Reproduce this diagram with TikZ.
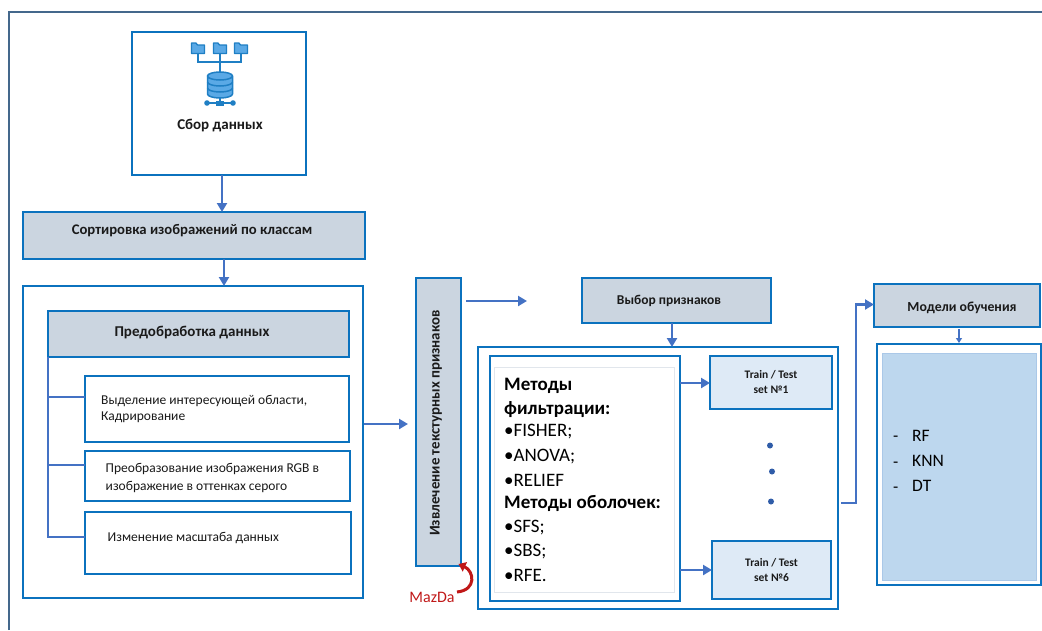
\documentclass[tikz,border=0pt]{standalone}
\usepackage{fontspec}
\setmainfont{Carlito}
\usetikzlibrary{arrows.meta,calc}
\definecolor{bx}{HTML}{0B72BE}
\definecolor{conn}{HTML}{4472C4}
\definecolor{hdr}{HTML}{CBD5E0}
\definecolor{lightb}{HTML}{DEEAF6}
\definecolor{midb}{HTML}{BDD7EE}
\definecolor{frame}{HTML}{44688C}
\definecolor{ico}{HTML}{1F7FC4}
\definecolor{icf}{HTML}{5AA9E6}
\definecolor{txt}{HTML}{1A1A1A}
\definecolor{mazred}{HTML}{C01818}
\definecolor{dotb}{HTML}{2F5CA8}
\newcommand{\fs}[1]{\fontsize{#1}{#1}\selectfont}
\newcommand{\bx}[6]{% name,x1,y1,x2,y2,style
  \pgfmathsetmacro{\bw}{#4-#2}\pgfmathsetmacro{\bh}{#5-#3}
  \node[#6,anchor=north west,minimum width=\bw pt,minimum height=\bh pt] (#1) at (#2,#3) {};}
\newcommand{\folder}[2]{%
  \draw[ico,line width=1.3pt,fill=icf,rounded corners=0.4pt] (#1-6.5,#2+5.5) -- (#1-6.5,#2-5) -- (#1-2,#2-5) -- (#1-0.5,#2-3) -- (#1+6.5,#2-3) -- (#1+6.5,#2+5.5) -- cycle;}
\tikzset{
  x=1pt,y=-1pt,
  box/.style={draw=bx,line width=2.2pt,fill=white,inner sep=0pt,outer sep=0pt},
  hbox/.style={box,fill=hdr},
  tbox/.style={box,fill=lightb},
  arr/.style={draw=conn,line width=2.4pt,-{Triangle[length=9pt,width=10pt]}},
  plain/.style={draw=conn,line width=2.4pt},
  lbl/.style={inner sep=0pt,yshift=-1pt,text=txt,font=\fs{13.5},align=left,anchor=west},
  blbl/.style={inner sep=0pt,yshift=-1pt,text=txt,font=\bfseries\fs{14.7},anchor=center},
  meth/.style={inner sep=0pt,yshift=-1.5pt,text=black,font=\fs{19},anchor=west},
  mbold/.style={meth,font=\bfseries\fs{19}},
}
\begin{document}
\begin{tikzpicture}
\useasboundingbox (0,0) rectangle (1042,630);
% outer frame
\draw[frame,line width=1.6pt] (9,630) -- (9,12) -- (1042,12);
% data collection
\bx{sbor}{132}{32}{306}{175}{box}
\node[blbl,font=\bfseries\fs{15}] (sbort) at (220,125) {Сбор данных};
\draw[ico,line width=1.6pt] (198,52) -- (198,62) -- (241,62) -- (241,52) (220,52) -- (220,72);
\folder{198}{48}\folder{220}{48}\folder{241}{48}
\draw[ico,line width=1.5pt,fill=icf] (207.5,76) -- (207.5,94) arc[start angle=180,end angle=360,x radius=12.5,y radius=-4] -- (232.5,76) arc[start angle=0,end angle=360,x radius=12.5,y radius=-4];
\draw[ico,line width=1.5pt] (207.5,82) arc[start angle=180,end angle=360,x radius=12.5,y radius=-4] (207.5,88) arc[start angle=180,end angle=360,x radius=12.5,y radius=-4];
\draw[ico,line width=1.6pt] (207,103) -- (233,103) (220,98) -- (220,103);
\fill[ico] (207,103) circle[radius=2.8] (233,103) circle[radius=2.8];
\fill[ico] (216,100.5) rectangle (224,105.5);
% sorting
\bx{sort}{23}{212}{365}{259}{hbox}
\node[blbl] (sortt) at (192,230) {Сортировка изображений по классам};
\draw[arr] ([xshift=3pt]sbor.south) -- ([xshift=3pt]sbor.south |- sort.north);
% preprocessing
\bx{pre}{23}{286}{363}{598}{box}
\draw[arr] ([xshift=30pt]sort.south) -- ([xshift=30pt]sort.south |- pre.north);
\bx{hpre}{48}{311}{349}{357}{hbox}
\node[blbl,font=\bfseries\fs{15}] (hpret) at (192,331.5) {Предобработка данных};
\bx{b1}{85}{376}{349}{442}{box}
\bx{b2}{85}{451}{350}{501}{box}
\bx{b3}{85}{512}{351}{574}{box}
\node[lbl] (t1a) at (101,400) {Выделение интересующей области,};
\node[lbl] (t1b) at (101,416) {Кадрирование};
\node[lbl] (t2a) at (105.5,468) {Преобразование  изображения RGB в};
\node[lbl] (t2b) at (105.5,486) {изображение в оттенках серого};
\node[lbl] (t3) at (107.5,537) {Изменение масштаба данных};
\coordinate (sp1) at (48,397);
\coordinate (sp2) at (48,465);
\coordinate (sp3) at (48,537);
\draw[plain] (hpre.south west) -- (sp3) -- (sp3 -| b3.west);
\draw[plain] (sp1) -- (sp1 -| b1.west);
\draw[plain] (sp2) -- (sp2 -| b2.west);
% extraction
\bx{ext}{416}{278}{461}{566}{hbox}
\node[inner sep=0pt,text=txt,font=\bfseries\fs{14.9},rotate=90] (extt) at (436,423) {Извлечение текстурных признаков};
\draw[arr] (pre.east |- 0,424) ++(1,0) -- (408,424) coordinate (e1);
\coordinate (e2) at (527,301);
\draw[arr] (ext.east |- e2) ++(5,0) -- (e2);
% MazDa
\node[inner sep=0pt,text=mazred,font=\fs{16}] (maz) at (432,597) {MazDa};
\draw[{Triangle[length=7pt,width=10pt]}-,draw=mazred,line width=3pt]
  ([xshift=20pt,yshift=2pt]ext.south) .. controls (474,571) and (477,590) .. (457,592);
% selection
\bx{sel}{582}{278}{771}{323}{hbox}
\node[blbl,font=\bfseries\fs{13.5}] (selt) at (669,300) {Выбор признаков};
\bx{mo}{478}{347}{838}{609}{box}
\draw[arr] ([xshift=-4.5pt]sel.south) -- ([xshift=-4.5pt]sel.south |- mo.north);
\bx{mb}{490}{356}{680}{601}{box}
\node[draw={rgb,255:red,225;green,230;blue,236},line width=1pt,anchor=north west,minimum width=180pt,minimum height=225pt,inner sep=0pt] (mi) at (494,367) {};
\node[mbold] (m1) at (504,384) {Методы};
\node[mbold] (m2) at (504,408) {фильтрации:};
\node[meth] (m3) at (504,430) {•FISHER;};
\node[meth] (m4) at (504,455) {•ANOVA;};
\node[meth] (m5) at (504,479) {•RELIEF};
\node[mbold] (m6) at (504,502) {Методы оболочек:};
\node[meth] (m7) at (504,526) {•SFS;};
\node[meth] (m8) at (504,550) {•SBS;};
\node[meth] (m9) at (504,574) {•RFE.};
% train/test
\bx{tr1}{710}{356}{832}{409}{tbox}
\bx{tr6}{712}{541}{831}{599}{tbox}
\node[inner sep=0pt,align=center,text=txt,font=\bfseries\fs{11.5}] (tr1t) at (771,382) {Train / Test\\[3pt]set №1};
\node[inner sep=0pt,align=center,text=txt,font=\bfseries\fs{11.5}] (tr6t) at (771.5,570) {Train / Test\\[3.5pt]set №6};
\coordinate (a1) at (680,383);
\coordinate (a6) at (680,570);
\draw[arr] (a1) -- (a1 -| tr1.west);
\draw[arr] (a6) -- (a6 -| tr6.west);
\fill[dotb] (770,445.5) circle[radius=3] (772,471.5) circle[radius=3] (771,501.5) circle[radius=3];
% models
\bx{mod}{874}{284}{1040}{327}{hbox}
\node[blbl,font=\bfseries\fs{13.8}] (modt) at (962,307) {Модели обучения};
\bx{mout}{877}{344}{1041}{585}{box}
\coordinate (c1) at (841,503);
\draw[arr] (c1) -- (856,503) -- (856,304.5) -- (mod.west |- 0,304.5);
\draw[draw=conn,line width=1.3pt,-{Triangle[length=5pt,width=6pt]}] (959,329) -- (959,343);
\node[draw={rgb,255:red,170;green,200;blue,232},fill=midb,line width=1pt,anchor=north west,minimum width=154pt,minimum height=227pt,inner sep=0pt] (mfill) at (882,353) {};
\node[meth,font=\fs{17}] (d1) at (893,437.5) {-};
\node[meth,font=\fs{17}] (d2) at (893,463) {-};
\node[meth,font=\fs{17}] (d3) at (893,488) {-};
\node[meth,font=\fs{17.5}] (rf) at (912,434.5) {RF};
\node[meth,font=\fs{17.5}] (knn) at (912,459.5) {KNN};
\node[meth,font=\fs{17.5}] (dt) at (912,484.5) {DT};
\end{tikzpicture}
\end{document}
